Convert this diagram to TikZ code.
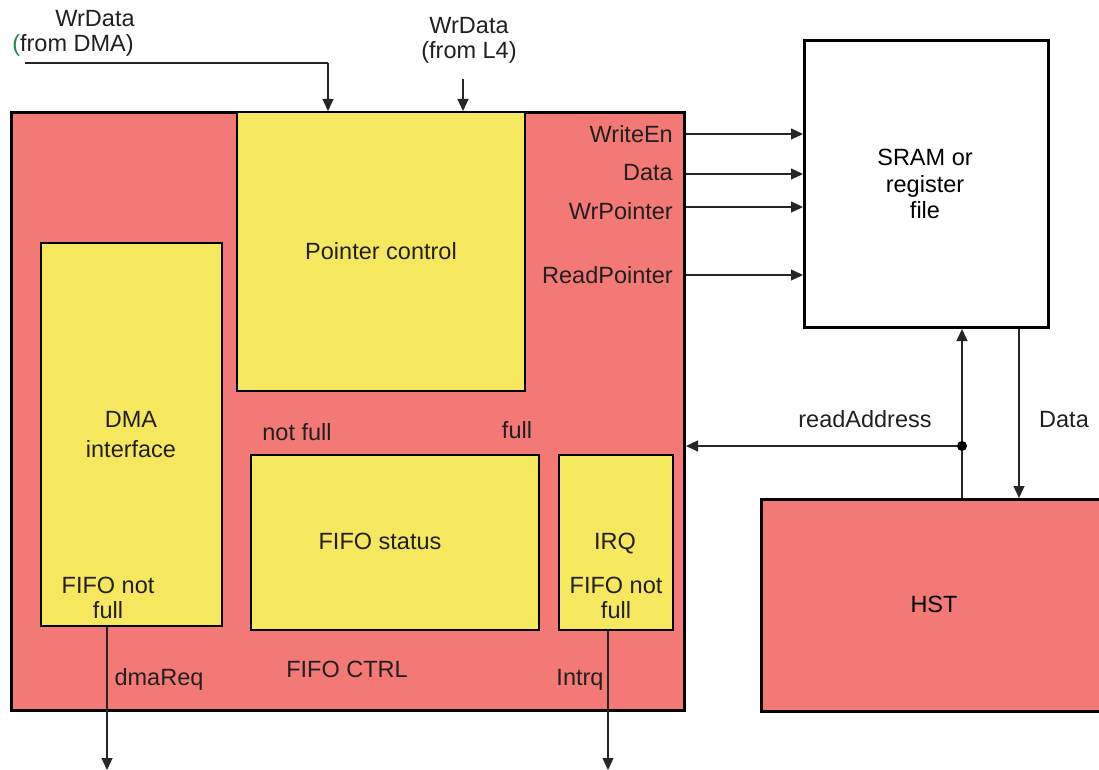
\documentclass[tikz,border=0pt]{standalone}
\usepackage{fontspec}
\setmainfont{Liberation Sans}
\usetikzlibrary{arrows.meta}
\definecolor{salmon}{HTML}{F37976}
\definecolor{yel}{HTML}{F6E85E}
\definecolor{txt}{HTML}{231F20}
\definecolor{grn}{HTML}{1E8A4C}
\tikzset{
  blk/.style={draw=black, line width=3pt, anchor=north west, inner sep=0pt},
  sub/.style={draw=black, line width=2pt, fill=yel, anchor=north west, inner sep=0pt},
  lbl/.style={text=txt, inner sep=0pt, font=\fontsize{23.5}{28}\selectfont},
  arr/.style={draw=black!85, line width=1.2pt, -{Triangle[length=12pt,width=11pt]}},
  wire/.style={draw=black!85, line width=1.2pt},
}
\begin{document}
\begin{tikzpicture}[x=1pt,y=-1pt]
\useasboundingbox (0,0) rectangle (1099,770);
% main blocks
\node[blk, fill=salmon, minimum width=673pt, minimum height=598pt] (fifo) at (10,111) {};
\node[sub, minimum width=288pt, minimum height=279pt] (ptr) at (236,111) {};
\node[sub, minimum width=181pt, minimum height=383pt] (dma) at (40,242) {};
\node[sub, minimum width=288pt, minimum height=175pt] (stat) at (250,454) {};
\node[sub, minimum width=114pt, minimum height=175pt] (irq) at (558,454) {};
\node[blk, fill=white, minimum width=244pt, minimum height=287pt] (sram) at (803,39) {};
\node[blk, fill=salmon, minimum width=345pt, minimum height=212pt] (hst) at (760,498) {};
% texts in blocks
\node[lbl, anchor=base] (tptr) at (381,259) {Pointer control};
\node[lbl, anchor=base] (tdma1) at (131,427) {DMA};
\node[lbl, anchor=base] (tdma2) at (131,457) {interface};
\node[lbl, anchor=base] (tdma3) at (108,593) {FIFO not};
\node[lbl, anchor=base] (tdma4) at (108,618) {full};
\node[lbl, anchor=base] (tstat) at (380,549) {FIFO status};
\node[lbl, anchor=base] (tirq) at (615,549) {IRQ};
\node[lbl, anchor=base] (tirq2) at (616,593) {FIFO not};
\node[lbl, anchor=base] (tirq3) at (616,618) {full};
\node[lbl, anchor=base] (tnf) at (297,440) {not full};
\node[lbl, anchor=base] (tf) at (517,438) {full};
\node[lbl, anchor=base] (tctrl) at (347,677) {FIFO CTRL};
\node[lbl, anchor=base] (tdreq) at (159,685) {dmaReq};
\node[lbl, anchor=base] (tintrq) at (580,685) {Intrq};
\node[lbl, anchor=base, text=black] (thst) at (934,612) {HST};
\node[lbl, anchor=base, text=black] (ts1) at (925,165) {SRAM or};
\node[lbl, anchor=base, text=black] (ts2) at (925,192) {register};
\node[lbl, anchor=base, text=black] (ts3) at (925,218) {file};
% right-side signal labels
\node[lbl, anchor=base east] (twe) at (673,143) {WriteEn};
\node[lbl, anchor=base east] (tdata) at (673,181) {Data};
\node[lbl, anchor=base east] (twp) at (673,219) {WrPointer};
\node[lbl, anchor=base east] (trp) at (673,283) {ReadPointer};
\node[lbl, anchor=base] (tra) at (865,427) {readAddress};
\node[lbl, anchor=base] (tdat2) at (1064,427) {Data};
% top labels
\node[lbl, anchor=base] (tw1) at (95,27) {WrData};
\node[lbl, anchor=base] (tw2) at (73,52) {\textcolor{grn}{(}from DMA)};
\node[lbl, anchor=base] (tl1) at (469,34) {WrData};
\node[lbl, anchor=base] (tl2) at (469,59) {(from L4)};
% coordinates
\coordinate (dmastart) at (25,63);
\coordinate (dmabend) at (328,63);
\coordinate (l4start) at (463,79);
\coordinate (dot) at (962,446);
\coordinate (dreqend) at (107,770);
\coordinate (intrqend) at (608,770);
\coordinate (yWE) at (0,134);
\coordinate (yD) at (0,174);
\coordinate (yWP) at (0,207);
\coordinate (yRP) at (0,275);
% connectors
\draw[wire] (dmastart) -- (dmabend);
\draw[arr] (dmabend) -- (dmabend |- fifo.north);
\draw[arr] (l4start) -- (l4start |- fifo.north);
\draw[arr] (fifo.east |- yWE) -- (sram.west |- yWE);
\draw[arr] (fifo.east |- yD) -- (sram.west |- yD);
\draw[arr] (fifo.east |- yWP) -- (sram.west |- yWP);
\draw[arr] (fifo.east |- yRP) -- (sram.west |- yRP);
\draw[arr] (dot |- hst.north) -- (dot |- sram.south);
\draw[arr] (dot) -- (fifo.east |- dot);
\fill[black] (dot) circle (5pt);
\draw[arr] (1019,0 |- sram.south) -- (1019,0 |- hst.north);
\draw[arr] (dreqend |- dma.south) -- (dreqend);
\draw[arr] (intrqend |- irq.south) -- (intrqend);
\end{tikzpicture}
\end{document}
